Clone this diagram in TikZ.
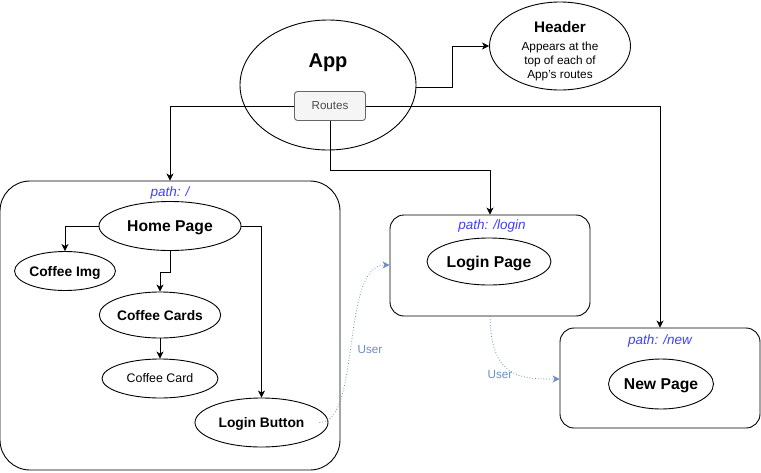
\documentclass[tikz,border=0pt]{standalone}
\usepackage{fontspec}
\setmainfont{Liberation Sans}
\usetikzlibrary{shapes.geometric,arrows.meta}
\tikzset{>={Stealth[length=7pt,width=7pt,inset=2pt]}}
\definecolor{pathblue}{HTML}{3F3FFF}
\definecolor{userblue}{HTML}{6C8EBF}
\definecolor{routefill}{HTML}{F5F5F5}
\definecolor{routeline}{HTML}{666666}

\begin{document}
\begin{tikzpicture}[x=1pt,y=-1pt,line width=0.9pt,
    comp/.style={draw,ellipse,inner sep=0pt,text depth=0pt},
    page/.style={comp,font=\bfseries\fontsize{15.7}{18}\selectfont},
    part/.style={comp,font=\bfseries\fontsize{13.8}{16}\selectfont},
    routebox/.style={draw,rounded corners=14pt,inner sep=0pt},
    pathlabel/.style={font=\itshape\fontsize{13.5}{16}\selectfont,color=pathblue},
    userlink/.style={->,dotted,color=userblue,line width=0.8pt},
    userlabel/.style={font=\fontsize{11.7}{14}\selectfont,color=userblue}]
    \useasboundingbox (0,0) rectangle (761,472);
    % App and header
    \node[comp,minimum width=176pt,minimum height=130pt] (app) at (328,85) {};
    \node[font=\bfseries\fontsize{20}{24}\selectfont] (apptitle) at (328,63) {App};
    \node[draw=routeline,fill=routefill,rounded corners=3pt,minimum width=71pt,minimum height=29pt,inner sep=0pt,font=\fontsize{11.6}{14}\selectfont,text=black!70] (routes) at (330,106) {Routes};
    \node[comp,minimum width=141pt,minimum height=88pt] (header) at (560,46) {};
    \node[font=\bfseries\fontsize{15.3}{18}\selectfont] (headertitle) at (560,27) {Header};
    \node[align=center,font=\fontsize{11.8}{14}\selectfont] (headernote) at (560,61) {Appears at the\\top of each of\\App's routes};
    \draw[->] (app.east) ++(0,2) -- ++(36,0) |- (header.west);
    % route containers
    \node[routebox,rounded corners=30pt,minimum width=340pt,minimum height=289pt] (homebox) at (170,325.5) {};
    \node[routebox,minimum width=200pt,minimum height=101pt] (loginbox) at (490,265.5) {};
    \node[routebox,minimum width=200pt,minimum height=100pt] (newbox) at (660,378) {};
    \node[pathlabel] (homepath) at (170,193) {path: /};
    \node[pathlabel] (loginpath) at (492,226) {path: /login};
    \node[pathlabel] (newpath) at (660,341) {path: /new};
    \draw[->] (routes.west) -| (homebox.north);
    \draw[->] (routes.east) -| (newbox.north);
    \draw[->] (routes.south) -- ++(0,49) -| (loginbox.north);
    % home page
    \node[page,minimum width=142pt,minimum height=49pt] (home) at (170,226) {Home Page};
    \node[part,minimum width=100pt,minimum height=39pt] (img) at (65,271) {Coffee Img};
    \node[part,minimum width=116pt,minimum height=46pt] (cards) at (160,315) {Coffee Cards};
    \node[comp,minimum width=116pt,minimum height=39pt,font=\fontsize{12.4}{15}\selectfont] (card) at (160,378.5) {Coffee Card};
    \node[part,minimum width=133pt,minimum height=49pt] (button) at (261.5,422.5) {Login Button};
    \draw[->] (home.west) -| (img.north);
    \draw[->] (home.south) -- ++(0,21) -| (cards.north);
    \draw[->] (cards.south) -- (card.north);
    \draw[->] (home.east) -| (button.north);
    % other pages
    \node[page,minimum width=124pt,minimum height=47pt] (login) at (489,261.5) {Login Page};
    \node[page,minimum width=100pt,minimum height=50pt] (new) at (661,384) {New Page};
    % user navigation
    \draw[userlink] (button.east) ++(-9,0) .. controls (362,422) and (340,265) .. (loginbox.west |- 0,265);
    \node[userlabel] (userone) at (370,350) {User};
    \draw[userlink] (loginbox.south) .. controls (491,378) and (520,379) .. (newbox.west |- 0,379);
    \node[userlabel] (usertwo) at (500,375) {User};
\end{tikzpicture}
\end{document}
